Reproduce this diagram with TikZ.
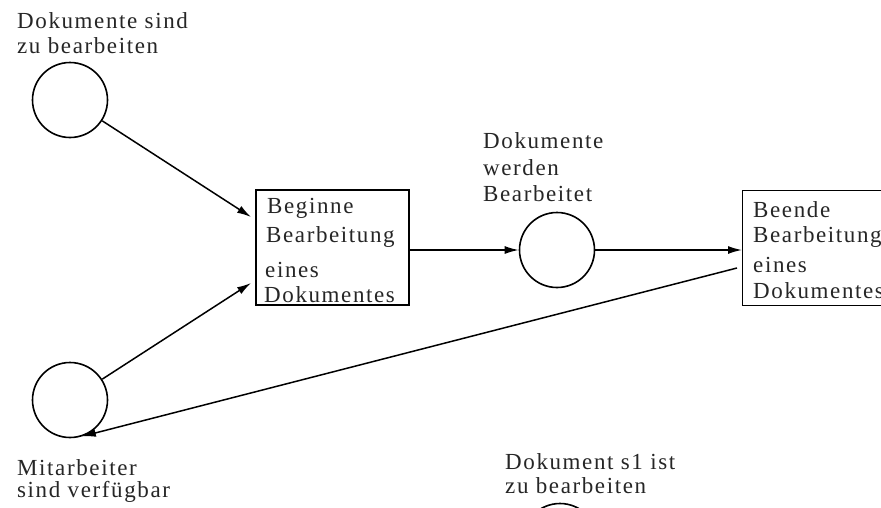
\documentclass[tikz,border=0pt]{standalone}
\usepackage{fontspec}
\setmainfont{Liberation Serif}[LetterSpace=7]
\usetikzlibrary{arrows.meta}
\tikzset{
  place/.style={circle, draw, line width=1.6pt, minimum size=75pt, inner sep=0pt},
  trans/.style={rectangle, draw, line width=1.3pt, minimum width=153pt, minimum height=115pt, inner sep=0pt},
  txt/.style={anchor=base west, inner sep=0pt, text=black!85, font=\fontsize{23}{25}\selectfont},
  arc/.style={line width=1.5pt, -{Latex[length=14pt,width=8pt]}},
}
\begin{document}
\begin{tikzpicture}[x=1pt, y=-1pt]
  \clip (0,0) rectangle (881,507);
  \fill[white] (0,0) rectangle (881,507);

  % places
  \node[place] (c1) at (70,100) {};
  \node[place] (c2) at (70,400) {};
  \node[place] (c3) at (557,250) {};
  \node[place] (c4) at (560,541) {};

  % transitions
  \node[trans] (box1) at (332.5,247.5) {};
  \node[trans, anchor=north west] (box2) at (742,190) {};

  % labels of the places
  \node[txt] (l1a) at (17,28) {Dokumente sind};
  \node[txt] (l1b) at (17,53) {zu bearbeiten};
  \node[txt] (l2a) at (17,475) {Mitarbeiter};
  \node[txt] (l2b) at (17,497) {sind verfügbar};
  \node[txt] (l3a) at (483,148) {Dokumente};
  \node[txt] (l3b) at (483,175) {werden};
  \node[txt] (l3c) at (483,201) {Bearbeitet};
  \node[txt] (l4a) at (505,469) {Dokument s1 ist};
  \node[txt] (l4b) at (505,493) {zu bearbeiten};

  % texts inside the transitions
  \node[txt] (b1a) at (267,213) {Beginne};
  \node[txt] (b1b) at (266,242) {Bearbeitung};
  \node[txt] (b1c) at (265,277) {eines};
  \node[txt] (b1d) at (264,302) {Dokumentes};
  \node[txt] (b2a) at (753,217) {Beende};
  \node[txt] (b2b) at (753,242) {Bearbeitung};
  \node[txt] (b2c) at (753,272) {eines};
  \node[txt] (b2d) at (753,298) {Dokumentes};

  % arc end points
  \coordinate (in1) at (251,217);
  \coordinate (in2) at (251,283);
  \coordinate (out2) at (737,268);

  % arcs
  \draw[arc] (c1) -- (in1);
  \draw[arc] (c2) -- (in2);
  \draw[arc] (box1.east |- c3.west) -- (c3.west);
  \draw[arc] (c3.east) -- (c3.east -| box2.west);
  \draw[arc] (out2) -- (c2.-72);
\end{tikzpicture}
\end{document}
